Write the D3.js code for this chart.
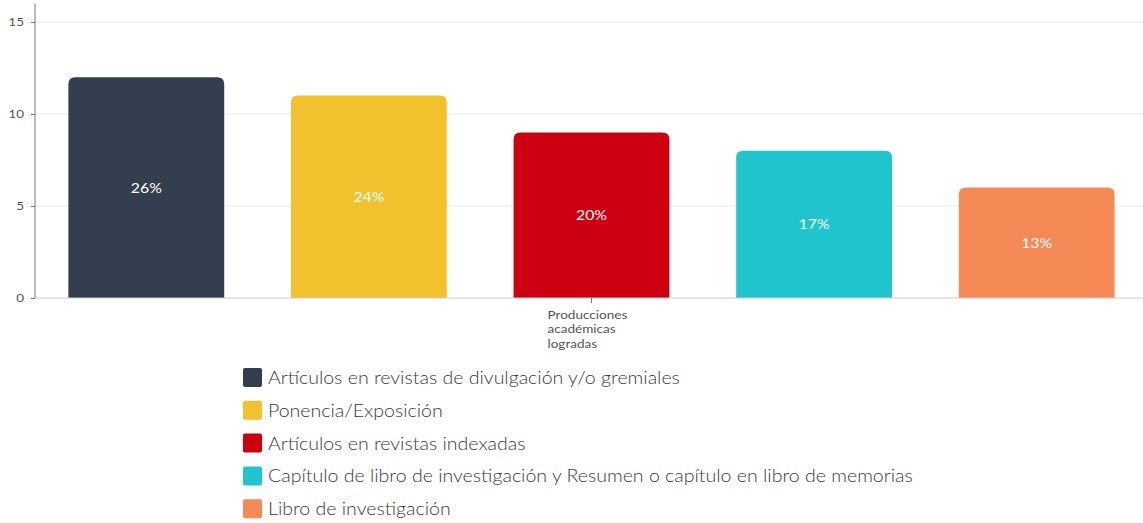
<!DOCTYPE html>
<html>
<head>
<meta charset="utf-8">
<script src="https://cdn.jsdelivr.net/npm/d3@7"></script>
<style>
  body { margin: 0; background: #fff; }
  svg { display: block; font-family: Lato, "Open Sans", sans-serif; }
</style>
</head>
<body>
<div id="chart"></div>
<script>
// data
const groupLabel = "Producciones académicas logradas";
const series = [
    "Artículos en revistas de divulgación y/o gremiales",
    "Ponencia/Exposición",
    "Artículos en revistas indexadas",
    "Capítulo de libro de investigación y Resumen o capítulo en libro de memorias",
    "Libro de investigación"
];
const values = [12, 11, 9, 8, 6];
const colors = ["#333f4f", "#f2c12e", "#cc0010", "#1fc4cc", "#f58a56"];
const yTicks = [0, 5, 10, 15];

const width = 1143, height = 523;
const STRETCH = 1.13; // text in the picture is a little wider than normal
const LEGEND_STRETCH = 1.15;

let svg = d3.select("#chart").append("svg")
    .attr("width", width)
    .attr("height", height);

let x = d3.scaleBand()
    .domain(series)
    .range([35, 1148])
    .paddingInner(0.3)
    .paddingOuter(0.15);

let y = d3.scaleLinear()
    .domain([0, 16])
    .range([298, 3.6]);

const total = d3.sum(values);

// stretched text placed at (tx, ty)
function stretchedText(parent, tx, ty) {
    return parent.append("g")
        .attr("transform", `translate(${tx},${ty}) scale(${STRETCH},1)`)
        .append("text");
}

// gridlines
svg.append("g").selectAll("line")
    .data(yTicks.filter(t => t > 0))
    .enter().append("line")
    .attr("x1", 35).attr("x2", width)
    .attr("y1", d => y(d)).attr("y2", d => y(d))
    .attr("stroke", "#e9e9e9");

// y axis
let yAxis = svg.append("g")
    .attr("transform", "translate(35,0)")
    .call(d3.axisLeft(y).tickValues(yTicks).tickSize(4).tickPadding(7));
yAxis.select(".domain").attr("stroke", "#777").attr("d", `M0,${y(16)}V${y(0)}`);
yAxis.selectAll(".tick line").attr("stroke", "#777");
yAxis.selectAll("text")
    .attr("fill", "#555")
    .attr("transform", `scale(${STRETCH},1)`)
    .attr("x", -11 / STRETCH)
    .style("font-size", "12px")
    .style("font-family", "Lato, sans-serif");

// bars with rounded tops
function barPath(x0, w, yTop, yBot, r) {
    return `M${x0},${yBot}V${yTop + r}Q${x0},${yTop} ${x0 + r},${yTop}H${x0 + w - r}Q${x0 + w},${yTop} ${x0 + w},${yTop + r}V${yBot}Z`;
}

svg.append("g").selectAll("path")
    .data(series)
    .enter().append("path")
    .attr("d", (d, i) => barPath(x(d), x.bandwidth(), y(values[i]), y(0), 7))
    .attr("fill", (d, i) => colors[i]);

// percent labels
let pctG = svg.append("g");
series.forEach((d, i) => {
    stretchedText(pctG, x(d) + x.bandwidth() / 2, (y(values[i]) + y(0)) / 2)
        .attr("dy", "0.35em")
        .attr("text-anchor", "middle")
        .attr("fill", "#fff")
        .style("font-size", "14px")
        .text(Math.round(values[i] / total * 100) + "%");
});

// baseline
svg.append("line")
    .attr("x1", 35).attr("x2", width)
    .attr("y1", y(0)).attr("y2", y(0))
    .attr("stroke", "#ccc");

// group tick and label
const groupX = x(series[2]) + x.bandwidth() / 2;
svg.append("line")
    .attr("x1", groupX).attr("x2", groupX)
    .attr("y1", y(0)).attr("y2", y(0) + 5)
    .attr("stroke", "#777");

let gl = stretchedText(svg, groupX - 44, 319)
    .attr("fill", "#555")
    .style("font-size", "12px");
groupLabel.split(" ").forEach((w, i) => {
    gl.append("tspan").attr("x", 0).attr("dy", i ? 14.5 : 0).text(w);
});

// legend
let legend = svg.append("g").selectAll("g")
    .data(series)
    .enter().append("g")
    .attr("transform", (d, i) => `translate(243,${368 + i * 32.8})`);

legend.append("rect")
    .attr("width", 19).attr("height", 19)
    .attr("rx", 2)
    .attr("fill", (d, i) => colors[i]);

legend.append("g")
    .attr("transform", `translate(25,10) scale(${LEGEND_STRETCH},1)`)
    .append("text")
    .attr("dy", "0.35em")
    .attr("fill", "#3a3a3a")
    .style("font-size", "17px")
    .style("font-weight", 300)
    .text(d => d);
</script>
</body>
</html>
